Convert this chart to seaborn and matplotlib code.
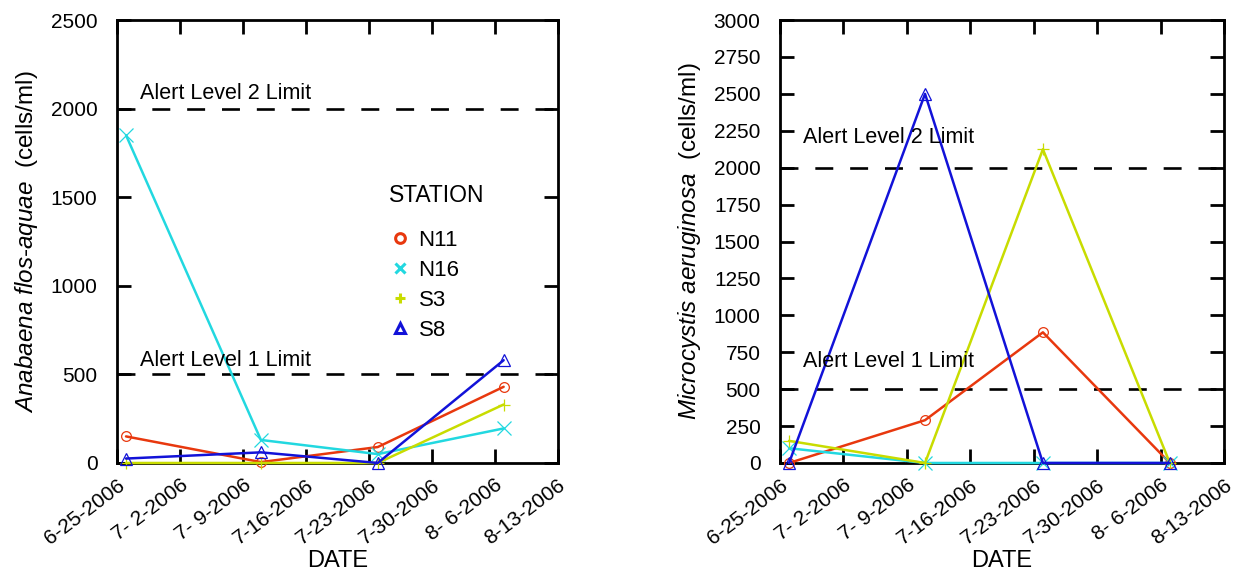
import numpy as np
import pandas as pd
import matplotlib
matplotlib.use("Agg")
import matplotlib.pyplot as plt
import matplotlib.dates as mdates
import matplotlib.transforms as mtransforms
from matplotlib.lines import Line2D
import seaborn as sns

# sampling dates (same for both species)
dates = ["2006-06-26", "2006-07-11", "2006-07-24", "2006-08-07"]
stations = ["N11", "N16", "S3", "S8"]

# Anabaena flos-aquae (cells/ml)
anabaena_n11 = [150, 5, 90, 430]
anabaena_n16 = [1850, 130, 50, 195]
anabaena_s3 = [0, 0, 0, 330]
anabaena_s8 = [25, 60, 0, 580]

# Microcystis aeruginosa (cells/ml)
micro_n11 = [0, 290, 885, 0]
micro_n16 = [100, 0, 0, 0]
micro_s3 = [150, 0, 2125, 0]
micro_s8 = [0, 2500, 0, 0]

tick_dates = ["2006-06-25", "2006-07-02", "2006-07-09", "2006-07-16",
              "2006-07-23", "2006-07-30", "2006-08-06", "2006-08-13"]
tick_labels = ["6-25-2006", "7- 2-2006", "7- 9-2006", "7-16-2006",
               "7-23-2006", "7-30-2006", "8- 6-2006", "8-13-2006"]

alert_levels = [500, 2000]
alert_labels = ["Alert Level 1 Limit", "Alert Level 2 Limit"]

colors = {"N11": "#e8380e", "N16": "#22d8e0", "S3": "#c8dc00", "S8": "#1212d8"}
markers = {"N11": "o", "N16": "x", "S3": "+", "S8": "^"}
msizes = {"N11": 7, "N16": 10, "S3": 9, "S8": 8}

sns.set_style("ticks")
plt.rcParams["font.family"] = ["Liberation Sans", "DejaVu Sans"]
plt.rcParams["mathtext.fontset"] = "custom"
plt.rcParams["mathtext.it"] = "Liberation Sans:italic"
plt.rcParams["mathtext.rm"] = "Liberation Sans"
for k in ["text.color", "axes.labelcolor", "xtick.color", "ytick.color",
          "axes.edgecolor"]:
    plt.rcParams[k] = "black"

x = pd.to_datetime(dates)


def draw_panel(ax, series, ymax, ystep, ylabel, text_y):
    for st in stations:
        sns.lineplot(x=x, y=series[st], ax=ax, color=colors[st], lw=1.8,
                     marker=markers[st], ms=msizes[st], mfc="none",
                     mec=colors[st], mew=0.9, clip_on=False, zorder=3)
    trans = mtransforms.blended_transform_factory(ax.transAxes, ax.transData)
    for lvl, lab, ty in zip(alert_levels, alert_labels, text_y):
        ax.axhline(lvl, color="black", lw=1.9, dashes=(6.8, 6.4), zorder=2)
        ax.text(0.052, ty, lab, transform=trans, fontsize=15.5, va="center",
                ha="left")
    ax.set_xlim(mdates.date2num(pd.Timestamp(tick_dates[0])),
                mdates.date2num(pd.Timestamp(tick_dates[-1])))
    ax.set_ylim(0, ymax)
    ax.set_yticks(np.arange(0, ymax + 1, ystep))
    ax.set_xticks(mdates.date2num(pd.to_datetime(tick_dates)))
    ax.set_xticklabels(tick_labels, rotation=37, ha="right", va="top",
                       rotation_mode="anchor")
    shift = mtransforms.ScaledTranslation(6 / 72, 0, ax.figure.dpi_scale_trans)
    for lbl in ax.get_xticklabels():
        lbl.set_transform(lbl.get_transform() + shift)
    ax.tick_params(direction="in", length=10, width=2, top=True, right=True,
                   labelsize=15)
    ax.tick_params(axis="y", pad=14)
    ax.tick_params(axis="x", pad=9)
    for sp in ax.spines.values():
        sp.set_visible(True)
        sp.set_linewidth(2)
    ax.set_xlabel("DATE", fontsize=17, labelpad=1.5)
    ax.set_ylabel(ylabel, fontsize=17.5, labelpad=8)


fig = plt.figure(figsize=(12.41, 5.73), dpi=100)
ax1 = fig.add_axes([0.0943, 0.192, 0.355, 0.773])
ax2 = fig.add_axes([0.6285, 0.192, 0.358, 0.773])

draw_panel(ax1, {"N11": anabaena_n11, "N16": anabaena_n16,
                 "S3": anabaena_s3, "S8": anabaena_s8},
           2500, 500, r"$\mathit{Anabaena\ flos}$-$\mathit{aquae}$  (cells/ml)",
           [580, 2085])
draw_panel(ax2, {"N11": micro_n11, "N16": micro_n16,
                 "S3": micro_s3, "S8": micro_s8},
           3000, 250, r"$\mathit{Microcystis\ aeruginosa}$  (cells/ml)",
           [690, 2205])

handles = [Line2D([], [], ls="none", marker=markers[st], color=colors[st],
                  mfc="none", mec=colors[st], mew=2.2, ms=7) for st in stations]
leg = ax1.legend(handles, stations, title="STATION", loc="upper left",
                 bbox_to_anchor=(0.571, 0.676), frameon=False, fontsize=16,
                 title_fontsize=16.5, handlelength=1.0, handletextpad=0.35,
                 labelspacing=0.4, alignment="left")
leg._legend_box.sep = 17

fig.savefig("out.png", dpi=100)
